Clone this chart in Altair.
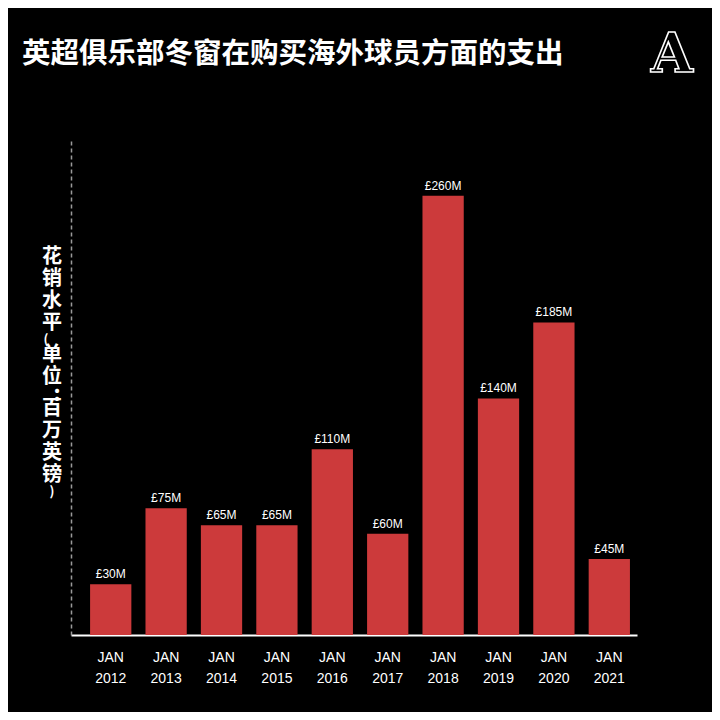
import altair as alt
import pandas as pd

years = ["2012", "2013", "2014", "2015", "2016", "2017", "2018", "2019", "2020", "2021"]
spend = [30, 75, 65, 65, 110, 60, 260, 140, 185, 45]
labels = ["£30M", "£75M", "£65M", "£65M", "£110M", "£60M", "£260M", "£140M", "£185M", "£45M"]
title_text = "英超俱乐部冬窗在购买海外球员方面的支出"
y_title_chars = ["花", "销", "水", "平", "(", "单", "位", ":", "百", "万", "英", "镑", ")"]

df = pd.DataFrame({"year": years, "spend": spend, "label": labels})

xscale = alt.Scale(paddingInner=0.255, paddingOuter=0.236, align=0.73)
yscale = alt.Scale(domain=[0, 293], nice=False)

base = alt.Chart(df)

bars = base.mark_bar(color="#cc3a3b").encode(
    x=alt.X("year:N", scale=xscale, sort=years,
            axis=alt.Axis(title=None, labelAngle=0, labelExpr="['JAN', datum.label]",
                          labelColor="white", labelFontSize=14, labelFont="Liberation Sans",
                          labelLineHeight=21, labelPadding=15, ticks=False,
                          domainColor="white", domainWidth=2)),
    y=alt.Y("spend:Q", scale=yscale,
            axis=alt.Axis(title=None, labels=False, ticks=False, grid=False,
                          domainColor="#9a9a9a", domainDash=[4, 3], domainWidth=1.5)),
)

text = base.mark_text(color="white", fontSize=12, font="Liberation Sans", dy=-10).encode(
    x=alt.X("year:N", scale=xscale, sort=years),
    y=alt.Y("spend:Q", scale=yscale),
    text="label:N",
)

title = alt.Chart(pd.DataFrame({"t": [title_text]})).mark_text(
    color="white", fontSize=28.5, fontWeight="bold", font="Noto Sans CJK SC",
    align="left", baseline="middle"
).encode(x=alt.value(-49), y=alt.value(-86), text="t:N")

# vertical y-axis title, stacked glyph by glyph (layout only)
layers_ytitle = []
ypos = 117.0
for ch in y_title_chars:
    if ch == "(":
        cx, cy, fs = -25, ypos - 5, 13
        ypos += 10
    elif ch == ")":
        cx, cy, fs = -19, ypos - 5, 13
        ypos += 14
    elif ch == ":":
        cx, cy, fs = -14, ypos - 5, 22
        ypos += 10
    else:
        cx, cy, fs = -19, ypos, 20
        ypos += 22
    m = alt.Chart(pd.DataFrame({"t": [ch]})).mark_text(
        color="white", fontSize=fs, fontWeight="bold", font="Noto Sans CJK SC",
        align="center", baseline="middle"
    ).encode(x=alt.value(cx), y=alt.value(cy), text="t:N")
    layers_ytitle.append(m)

logo = alt.Chart(pd.DataFrame({"t": ["A"]})).mark_text(
    color="black", stroke="white", strokeWidth=1.6, fontSize=54, font="DejaVu Serif",
    fontWeight="bold", align="center", baseline="middle"
).encode(x=alt.value(601), y=alt.value(-84), text="t:N")

chart = alt.layer(bars, text, title, logo, *layers_ytitle).properties(
    width=566, height=495,
    autosize=alt.AutoSizeParams(type="none"),
    padding={"left": 63, "top": 132, "right": 75, "bottom": 77},
    background="black",
).configure_view(stroke=None)

chart.save("out.html", embed_options={"renderer": "svg", "actions": False})
